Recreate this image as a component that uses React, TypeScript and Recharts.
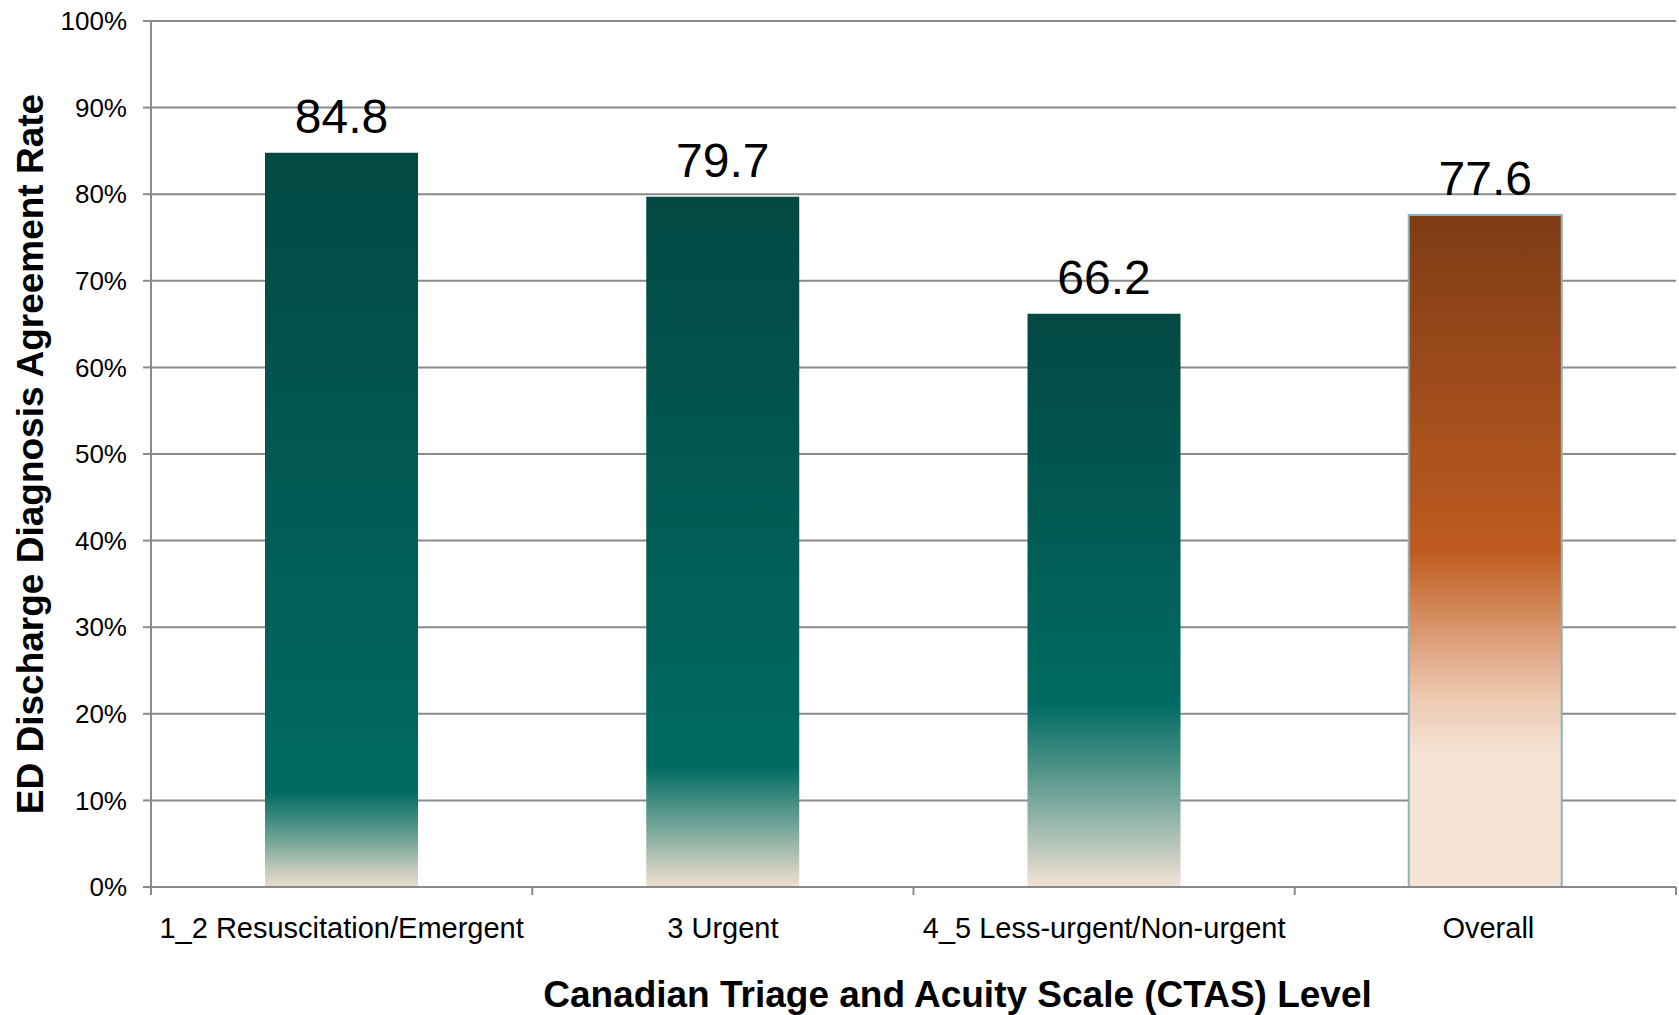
import { BarChart, Bar, Cell, XAxis, YAxis, CartesianGrid, LabelList } from 'recharts'

const levels = ['1_2 Resuscitation/Emergent', '3 Urgent', '4_5 Less-urgent/Non-urgent', 'Overall']
const agreementRate = [84.8, 79.7, 66.2, 77.6]
const percentTicks = [0, 10, 20, 30, 40, 50, 60, 70, 80, 90, 100]

const xTitle = 'Canadian Triage and Acuity Scale (CTAS) Level'
const yTitle = 'ED Discharge Diagnosis Agreement Rate'

const FONT = '"Liberation Sans", Arial, Helvetica, sans-serif'
const GRID = '#8a8a8a'

const WIDTH = 1679
const HEIGHT = 1015
const Y_AXIS_W = 151
const RIGHT_PAD = 3
const TICK_SIZE = 8
const X_TICK_MARGIN = 22

// gradient stops per bar, top of bar = 0, bottom = 1
const TEAL_DARK = '#034843'
const TEAL = '#006b62'
const barGradients: { offset: number; color: string }[][] = [
  [
    { offset: 0, color: TEAL_DARK },
    { offset: 0.87, color: TEAL },
    { offset: 0.935, color: '#6fa396' },
    { offset: 0.985, color: '#d3d1c2' },
    { offset: 1, color: '#eadfd0' },
  ],
  [
    { offset: 0, color: TEAL_DARK },
    { offset: 0.825, color: TEAL },
    { offset: 0.91, color: '#6fa396' },
    { offset: 0.98, color: '#d6d3c4' },
    { offset: 1, color: '#efe2d4' },
  ],
  [
    { offset: 0, color: TEAL_DARK },
    { offset: 0.68, color: TEAL },
    { offset: 0.81, color: '#5a998d' },
    { offset: 0.92, color: '#b2c3b8' },
    { offset: 1, color: '#f2e3d5' },
  ],
  [
    { offset: 0, color: '#7e3c15' },
    { offset: 0.5, color: '#be5b21' },
    { offset: 0.575, color: '#cf814f' },
    { offset: 0.65, color: '#e0a786' },
    { offset: 0.72, color: '#edc9b0' },
    { offset: 0.8, color: '#f5e3d6' },
    { offset: 1, color: '#f5e3d6' },
  ],
]

const data = levels.map((level, i) => ({ level, rate: agreementRate[i] }))

// category label plus tick marks on the category boundaries
function LevelTick({ x, y, payload, index }: any) {
  const half = (WIDTH - Y_AXIS_W - RIGHT_PAD) / levels.length / 2
  const axisY = y - TICK_SIZE - X_TICK_MARGIN
  const edges = index === levels.length - 1 ? [x - half, x + half] : [x - half]
  return (
    <g>
      {edges.map((ex) => (
        <line key={ex} x1={ex} x2={ex} y1={axisY} y2={axisY + TICK_SIZE} stroke={GRID} strokeWidth={2} />
      ))}
      <text x={x + (index === levels.length - 1 ? 3 : 0)} y={y} dy="0.71em" textAnchor="middle" fontFamily={FONT} fontSize={29} fill="#000">
        {payload.value}
      </text>
    </g>
  )
}

function XTitle({ viewBox }: any) {
  const x = viewBox.x + viewBox.width / 2 + 44
  return (
    <text x={x} y={viewBox.y + 120} textAnchor="middle" fontFamily={FONT} fontSize={37} fontWeight="bold" fill="#000">
      {xTitle}
    </text>
  )
}

function YTitle({ viewBox }: any) {
  const x = viewBox.x + 43
  const y = viewBox.y + viewBox.height / 2
  return (
    <text
      x={x}
      y={y}
      transform={`rotate(-90, ${x}, ${y})`}
      textAnchor="middle"
      fontFamily={FONT}
      fontSize={37}
      fontWeight="bold"
      fill="#000"
    >
      {yTitle}
    </text>
  )
}

export default function App() {
  return (
    <div style={{ position: 'absolute', left: 0, top: 0, background: '#fff' }}>
      <BarChart width={WIDTH} height={HEIGHT} data={data} margin={{ top: 21, right: RIGHT_PAD, left: 0, bottom: 0 }}>
        <defs>
          {barGradients.map((stops, i) => (
            <linearGradient key={i} id={`barFill${i}`} x1="0" y1="0" x2="0" y2="1">
              {stops.map((s) => (
                <stop key={s.offset} offset={s.offset} stopColor={s.color} />
              ))}
            </linearGradient>
          ))}
        </defs>
        <CartesianGrid vertical={false} stroke={GRID} strokeWidth={2} />
        <XAxis
          dataKey="level"
          height={128}
          axisLine={{ stroke: GRID, strokeWidth: 2 }}
          tickLine={false}
          tickSize={TICK_SIZE}
          tickMargin={X_TICK_MARGIN}
          interval={0}
          tick={LevelTick}
          label={{ content: XTitle }}
        />
        <YAxis
          domain={[0, 100]}
          ticks={percentTicks}
          width={Y_AXIS_W}
          tickFormatter={(v) => `${v}%`}
          axisLine={{ stroke: GRID, strokeWidth: 2 }}
          tickLine={{ stroke: GRID, strokeWidth: 2 }}
          tickSize={TICK_SIZE}
          tickMargin={16}
          tick={{ fontFamily: FONT, fontSize: 26, fill: '#000' }}
          label={{ content: YTitle }}
        />
        <Bar dataKey="rate" barSize={153} isAnimationActive={false}>
          {data.map((d, i) => (
            <Cell
              key={d.level}
              fill={`url(#barFill${i})`}
              stroke={d.level === 'Overall' ? '#8fb2b8' : 'none'}
              strokeWidth={2}
            />
          ))}
          <LabelList dataKey="rate" position="top" offset={20} fontFamily={FONT} fontSize={48} fill="#000" />
        </Bar>
      </BarChart>
    </div>
  )
}
